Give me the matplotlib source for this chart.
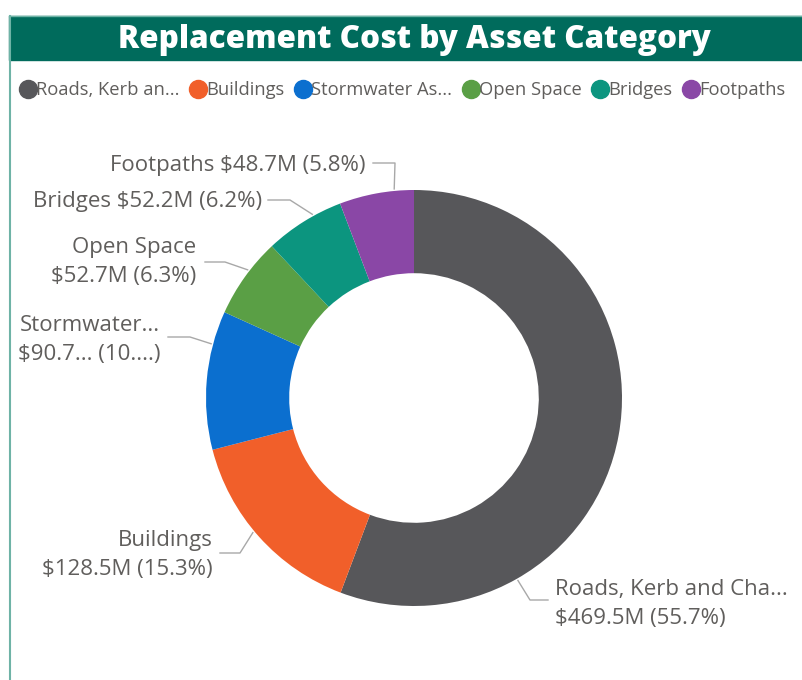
import numpy as np
import matplotlib.pyplot as plt
from matplotlib.patches import Rectangle

categories = ['Roads, Kerb and Channel', 'Buildings', 'Stormwater Assets',
              'Open Space', 'Bridges', 'Footpaths']
legend_names = ['Roads, Kerb an...', 'Buildings', 'Stormwater As...',
                'Open Space', 'Bridges', 'Footpaths']
values = [469.5, 128.5, 90.7, 52.7, 52.2, 48.7]
label_texts = ['Roads, Kerb and Cha...\n$469.5M (55.7%)',
               'Buildings\n$128.5M (15.3%)',
               'Stormwater...\n$90.7... (10....)',
               'Open Space\n$52.7M (6.3%)',
               'Bridges $52.2M (6.2%)',
               'Footpaths $48.7M (5.8%)']
colors = ['#57575A', '#F15F2A', '#0B6FCF', '#5A9F45', '#0C957F', '#8A47A6']

W, H = 802, 680
plt.rcParams['font.family'] = ['Open Sans', 'DejaVu Sans']
fig = plt.figure(figsize=(W / 100, H / 100), dpi=100)
ax = fig.add_axes([0, 0, 1, 1])

def py(y):
    return H - y

# frame + title bar
ax.add_patch(Rectangle((9, py(60)), W, 44, color='#006B5C', zorder=1))
ax.plot([9.5, 9.5], [py(16), 0], color='#6FB3A6', lw=1.5, zorder=2)
ax.plot([9, W], [py(16), py(16)], color='#6FB3A6', lw=1, zorder=2)
ax.text(414, py(40), 'Replacement Cost by Asset Category', color='white',
        fontsize=22.6, fontweight='heavy', ha='center', va='center')

# legend
handles = [plt.Line2D([], [], marker='o', ls='', color=c, markersize=13)
           for c in colors]
leg = fig.legend(handles, legend_names, loc='center left',
                 bbox_to_anchor=(17 / W, 1 - 90 / H), ncol=6, frameon=False,
                 handletextpad=-0.15, columnspacing=0.4, handlelength=1.2,
                 borderaxespad=0, borderpad=0, fontsize=13.2, labelcolor='#605E5C')

# donut
cx, cy, R = 414, py(398), 208
wedges, _ = ax.pie(values, colors=colors, startangle=90, counterclock=False,
                   center=(cx, cy), radius=R, frame=True,
                   wedgeprops=dict(width=R * 0.4, edgecolor='none'))
ax.set_xlim(0, W)
ax.set_ylim(0, H)
ax.set_aspect('equal')
ax.axis('off')

# leader lines and labels (angle tweak, elbow, text end - layout only)
tweak = [-50, -2, -10, -2, -3, -5]
elbow = [(530, 600), (240, 553), (190, 337), (225, 262), (290, 200), (395, 163)]
tend = [(548, 600), (220, 553), (168, 337), (205, 262), (268, 200), (373, 163)]
text_pos = [(555, 604), (213, 555), (160, 340), (196, 262), (262, 201), (365, 165)]

total = sum(values)
cum = np.cumsum(values) - np.array(values) / 2
for i, v in enumerate(values):
    ang = np.deg2rad(90 - 360 * cum[i] / total + tweak[i])
    x0 = cx + (R + 2) * np.cos(ang)
    y0 = cy + (R + 2) * np.sin(ang)
    ex, ey = elbow[i]
    tx, ty = tend[i]
    ax.plot([x0, ex, tx], [y0, py(ey), py(ty)], color='#A8A8A8', lw=1, zorder=3)
    ha = 'left' if i == 0 else 'right'
    ax.text(text_pos[i][0], py(text_pos[i][1]), label_texts[i], ha=ha, va='center',
            fontsize=16, color='#605E5C', linespacing=1.45,
            multialignment='left' if i == 0 else 'right')

fig.savefig('out.png', dpi=100)
